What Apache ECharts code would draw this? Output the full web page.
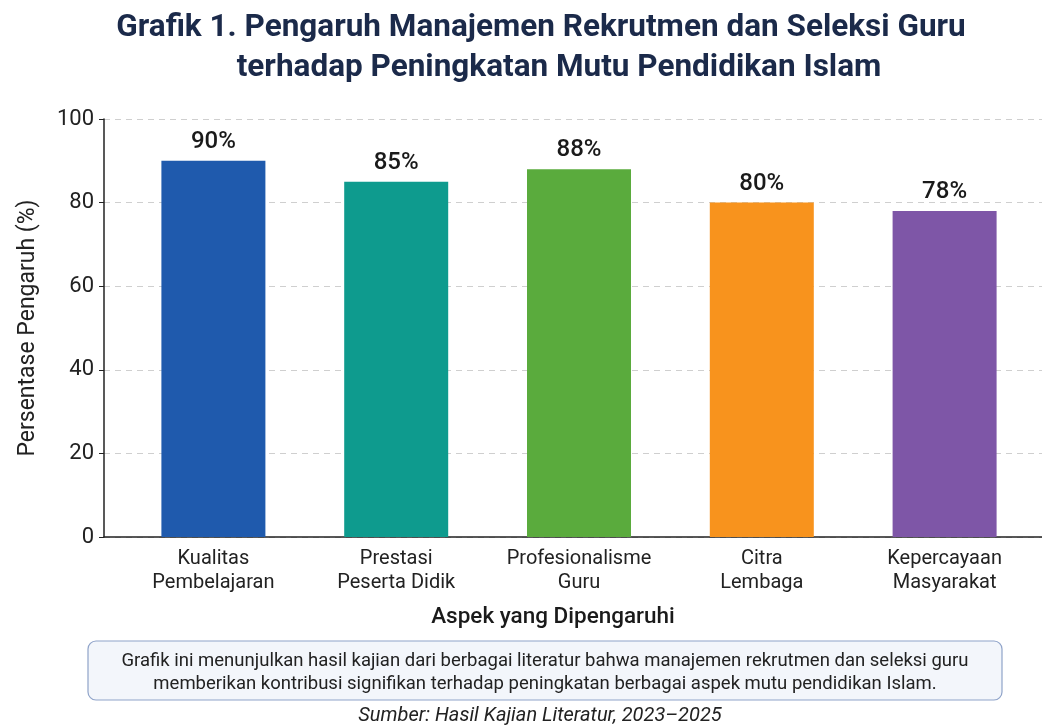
<!DOCTYPE html>
<html>
<head>
<meta charset="utf-8">
<script src="https://cdn.jsdelivr.net/npm/echarts@6/dist/echarts.min.js"></script>
<style>
html,body{margin:0;padding:0;background:#fff;}
#chart{width:1042px;height:728px;}
</style>
</head>
<body>
<div id="chart"></div>
<script>
const categories = ['Kualitas\nPembelajaran', 'Prestasi\nPeserta Didik', 'Profesionalisme\nGuru', 'Citra\nLembaga', 'Kepercayaan\nMasyarakat'];
const values = [90, 85, 88, 80, 78];
const barColors = ['#1f5aad', '#0e9b8e', '#5aab3d', '#f8931d', '#7e56a7'];
const yTicks = [0, 20, 40, 60, 80, 100];

const FONT = 'Roboto';
const chart = echarts.init(document.getElementById('chart'));
chart.setOption({
  backgroundColor: '#ffffff',
  textStyle: { fontFamily: FONT },
  grid: [
    { left: 104, right: 0, top: 119, bottom: 191 },
    { left: 122, right: 6, top: 119, bottom: 191 }
  ],
  xAxis: [
    { gridIndex: 0, type: 'value', min: 0, max: 1, axisLabel: { show: false }, axisTick: { show: false }, splitLine: { show: false },
      axisLine: { show: true, lineStyle: { color: '#222', width: 1.5 } } },
    { gridIndex: 1, type: 'category', data: categories, axisLine: { show: false }, axisTick: { show: false },
      axisLabel: { fontFamily: FONT, fontSize: 20, lineHeight: 24, color: '#222', margin: 10, interval: 0 } }
  ],
  yAxis: [
    { gridIndex: 0, type: 'value', min: yTicks[0], max: yTicks[yTicks.length - 1], interval: 20,
      name: 'Persentase Pengaruh (%)', nameLocation: 'middle', nameGap: 64, nameRotate: 90,
      nameTextStyle: { fontFamily: FONT, fontSize: 23, color: '#222' },
      axisLine: { show: true, lineStyle: { color: '#222', width: 1.5 } },
      axisTick: { show: true, length: 5, lineStyle: { color: '#222' } },
      axisLabel: { fontFamily: FONT, fontSize: 22, color: '#222', margin: 10 },
      splitLine: { show: true, lineStyle: { color: '#cfcfcf', type: [6, 5], width: 1 } } },
    { gridIndex: 1, type: 'value', min: 0, max: 100, show: false, splitLine: { show: false } }
  ],
  series: [{
    type: 'bar', xAxisIndex: 1, yAxisIndex: 1, barWidth: 104,
    data: values.map((v, i) => ({ value: v, itemStyle: { color: barColors[i] } })),
    label: { show: true, position: 'top', distance: 7, formatter: '{c}%', fontFamily: FONT, fontSize: 24, fontWeight: 500, color: '#1a1a1a' }
  }],
  graphic: [
    { type: 'text', x: 541, y: 28, style: { text: 'Grafik 1. Pengaruh Manajemen Rekrutmen dan Seleksi Guru', fontFamily: FONT, fontSize: 31.5, fontWeight: 'bold', fill: '#1b2a4a', textAlign: 'center', textVerticalAlign: 'middle' } },
    { type: 'text', x: 559, y: 68, style: { text: 'terhadap Peningkatan Mutu Pendidikan Islam', fontFamily: FONT, fontSize: 31.5, fontWeight: 'bold', fill: '#1b2a4a', textAlign: 'center', textVerticalAlign: 'middle' } },
    { type: 'text', x: 553, y: 617, style: { text: 'Aspek yang Dipengaruhi', fontFamily: FONT, fontSize: 22.5, fontWeight: 500, fill: '#1a1a1a', textAlign: 'center', textVerticalAlign: 'middle' } },
    { type: 'rect', shape: { x: 88, y: 641, width: 914, height: 59, r: 8 }, style: { fill: '#f3f6fb', stroke: '#8fa3c9', lineWidth: 1.2 } },
    { type: 'text', x: 545, y: 661, style: { text: 'Grafik ini menunjulkan hasil kajian dari berbagai literatur bahwa manajemen rekrutmen dan seleksi guru', fontFamily: FONT, fontSize: 18.5, fill: '#222', textAlign: 'center', textVerticalAlign: 'middle' } },
    { type: 'text', x: 545, y: 684, style: { text: 'memberikan kontribusi signifikan terhadap peningkatan berbagai aspek mutu pendidikan Islam.', fontFamily: FONT, fontSize: 18.5, fill: '#222', textAlign: 'center', textVerticalAlign: 'middle' } },
    { type: 'text', x: 540, y: 716, style: { text: 'Sumber: Hasil Kajian Literatur, 2023–2025', fontFamily: FONT, fontSize: 20, fontStyle: 'italic', fill: '#222', textAlign: 'center', textVerticalAlign: 'middle' } }
  ]
});
</script>
</body>
</html>
